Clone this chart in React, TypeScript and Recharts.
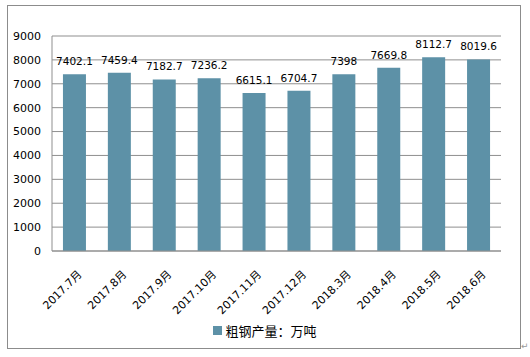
import { BarChart, Bar, XAxis, YAxis, CartesianGrid, Legend, LabelList } from "recharts";

const months = [
  "2017.7月",
  "2017.8月",
  "2017.9月",
  "2017.10月",
  "2017.11月",
  "2017.12月",
  "2018.3月",
  "2018.4月",
  "2018.5月",
  "2018.6月",
];
const output = [7402.1, 7459.4, 7182.7, 7236.2, 6615.1, 6704.7, 7398, 7669.8, 8112.7, 8019.6];
const yTicks = [0, 1000, 2000, 3000, 4000, 5000, 6000, 7000, 8000, 9000];
const seriesName = "粗钢产量：万吨";

const data = months.map((m, i) => ({ month: m, value: output[i] }));

const FONT = "'DejaVu Sans', 'Noto Sans CJK SC', sans-serif";
const BAR = "#5d91a7";
const GRID = "#8f8f8f";

const MonthTick = ({ x, y, payload }: any) => (
  <g transform={`translate(${x + 8},${y + 16})`}>
    <text
      x={0}
      y={0}
      textAnchor="end"
      transform="rotate(-45)"
      fontSize={11}
      fontFamily={FONT}
      fill="#000"
    >
      {payload.value}
    </text>
  </g>
);

const LegendBox = () => (
  <div
    style={{
      display: "flex",
      justifyContent: "center",
      alignItems: "center",
      fontFamily: FONT,
      fontSize: 13,
      color: "#000",
    }}
  >
    <span style={{ width: 9, height: 9, background: BAR, display: "inline-block", marginRight: 3 }} />
    <span>{seriesName}</span>
  </div>
);

export default function App() {
  return (
    <div style={{ position: "absolute", left: 0, top: 0, width: 530, height: 357, background: "#fff" }}>
      <div
        style={{
          position: "absolute",
          left: 7,
          top: 5,
          width: 512,
          height: 342,
          border: "1.5px solid #8c8c8c",
        }}
      />
      <div style={{ position: "absolute", left: 0, top: 0 }}>
        <BarChart
          width={530}
          height={357}
          data={data}
          margin={{ top: 36, right: 29, left: 0, bottom: 0 }}
          barCategoryGap="24.4%"
        >
          <CartesianGrid vertical={false} stroke={GRID} strokeWidth={1} />
          <XAxis
            dataKey="month"
            height={106}
            interval={0}
            tickLine={false}
            axisLine={{ stroke: GRID }}
            tick={<MonthTick />}
          />
          <YAxis
            width={52}
            domain={[0, 9000]}
            ticks={yTicks}
            interval={0}
            tickLine={false}
            tickMargin={5}
            axisLine={{ stroke: GRID }}
            tick={{ fontSize: 11, fontFamily: FONT, fill: "#000" }}
          />
          <Legend
            layout="horizontal"
            verticalAlign="middle"
            align="center"
            wrapperStyle={{ top: 321, left: 0, width: 530 }}
            content={<LegendBox />}
          />
          <Bar dataKey="value" name={seriesName} fill={BAR} isAnimationActive={false}>
            <LabelList
              dataKey="value"
              position="top"
              offset={9}
              fontSize={10.5}
              fontFamily={FONT}
              fill="#000"
            />
          </Bar>
        </BarChart>
      </div>
      <span
        style={{
          position: "absolute",
          left: 521,
          top: 341,
          fontSize: 9,
          color: "#999",
          fontFamily: FONT,
        }}
      >
        ↵
      </span>
    </div>
  );
}
